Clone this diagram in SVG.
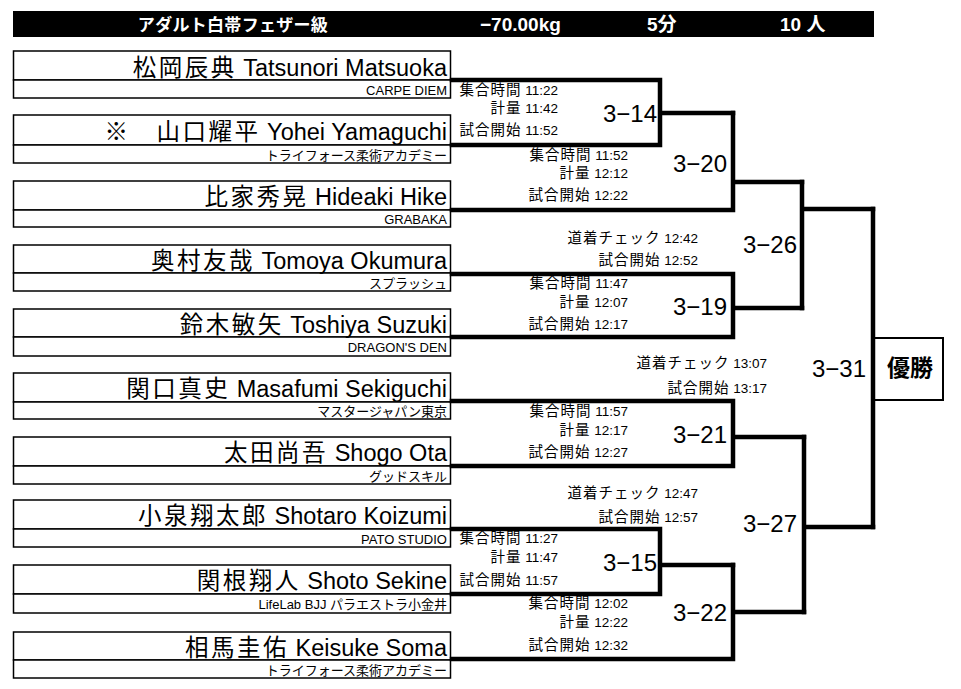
<svg xmlns="http://www.w3.org/2000/svg" width="961" height="689" viewBox="0 0 961 689">
<style>
text{font-family:"Liberation Sans","Noto Sans CJK JP",sans-serif;fill:#000}
.hd{fill:#fff;font-weight:bold;font-size:19px}
.bx{fill:#fff;stroke:#000;stroke-width:1.5}
.nm{font-size:23.5px;text-anchor:end}
.nk{letter-spacing:2.5px}
.cl{font-size:13px;text-anchor:end}
.sc{font-size:13.5px;text-anchor:end}
.k{font-size:14.5px;letter-spacing:1px}
.mt{font-size:24px;text-anchor:end}
.ln{fill:none;stroke:#000;stroke-width:4.5;stroke-linejoin:miter;stroke-linecap:square}
</style>
<rect width="961" height="689" fill="#fff"/>
<g id="header">
<rect x="13" y="11" width="861" height="26" fill="#000"/>
<text class="hd" x="233" y="31" text-anchor="middle" style="font-size:17px;letter-spacing:0.3px">アダルト白帯フェザー級</text>
<text class="hd" x="480" y="31">−70.00kg</text>
<text class="hd" x="647" y="31">5分</text>
<text class="hd" x="780" y="31">10 人</text>
</g>
<g id="n1"><rect class="bx" x="13.5" y="51" width="437" height="29"/><rect class="bx" x="13.5" y="80" width="437" height="18"/>
<text class="nm" x="447" y="76"><tspan class="nk">松岡辰典</tspan> Tatsunori Matsuoka</text><text class="cl" x="447" y="94.5">CARPE DIEM</text></g>
<g id="n2"><rect class="bx" x="13.5" y="115" width="437" height="30"/><rect class="bx" x="13.5" y="145" width="437" height="18"/>
<text class="nm" x="447" y="140"><tspan class="nk">※　山口耀平</tspan> Yohei Yamaguchi</text><text class="cl" x="447" y="159.5">トライフォース柔術アカデミー</text></g>
<g id="n3"><rect class="bx" x="13.5" y="181" width="437" height="29"/><rect class="bx" x="13.5" y="210" width="437" height="17"/>
<text class="nm" x="447" y="205"><tspan class="nk">比家秀晃</tspan> Hideaki Hike</text><text class="cl" x="447" y="224">GRABAKA</text></g>
<g id="n4"><rect class="bx" x="13.5" y="245" width="437" height="28"/><rect class="bx" x="13.5" y="273" width="437" height="18"/>
<text class="nm" x="447" y="269"><tspan class="nk">奥村友哉</tspan> Tomoya Okumura</text><text class="cl" x="447" y="287.5">スプラッシュ</text></g>
<g id="n5"><rect class="bx" x="13.5" y="309" width="437" height="28"/><rect class="bx" x="13.5" y="337" width="437" height="19"/>
<text class="nm" x="447" y="333"><tspan class="nk">鈴木敏矢</tspan> Toshiya Suzuki</text><text class="cl" x="447" y="352">DRAGON'S DEN</text></g>
<g id="n6"><rect class="bx" x="13.5" y="373" width="437" height="29"/><rect class="bx" x="13.5" y="402" width="437" height="17"/>
<text class="nm" x="447" y="397"><tspan class="nk">関口真史</tspan> Masafumi Sekiguchi</text><text class="cl" x="447" y="416">マスタージャパン東京</text></g>
<g id="n7"><rect class="bx" x="13.5" y="437" width="437" height="29"/><rect class="bx" x="13.5" y="466" width="437" height="18"/>
<text class="nm" x="447" y="461"><tspan class="nk">太田尚吾</tspan> Shogo Ota</text><text class="cl" x="447" y="480.5">グッドスキル</text></g>
<g id="n8"><rect class="bx" x="13.5" y="500" width="437" height="29"/><rect class="bx" x="13.5" y="529" width="437" height="18"/>
<text class="nm" x="447" y="524"><tspan class="nk">小泉翔太郎</tspan> Shotaro Koizumi</text><text class="cl" x="447" y="543.5">PATO STUDIO</text></g>
<g id="n9"><rect class="bx" x="13.5" y="565" width="437" height="29"/><rect class="bx" x="13.5" y="594" width="437" height="19"/>
<text class="nm" x="447" y="589"><tspan class="nk">関根翔人</tspan> Shoto Sekine</text><text class="cl" x="447" y="609">LifeLab BJJ パラエストラ小金井</text></g>
<g id="n10"><rect class="bx" x="13.5" y="632" width="437" height="28"/><rect class="bx" x="13.5" y="660" width="437" height="18"/>
<text class="nm" x="447" y="656"><tspan class="nk">相馬圭佑</tspan> Keisuke Soma</text><text class="cl" x="447" y="674.5">トライフォース柔術アカデミー</text></g>
<g id="winner"><rect class="bx" x="873" y="338" width="70" height="62" style="stroke-width:2"/>
<text x="910" y="376" text-anchor="middle" style="font-size:23px;font-weight:bold">優勝</text></g>
<g id="connectors">
<path class="ln" d="M452,80 H660 V145 H452 M660,113 H733"/>
<path class="ln" d="M733,113 V210 H452 M733,182 H802"/>
<path class="ln" d="M452,274 H733 V337 H452 M733,308 H802"/>
<path class="ln" d="M802,182 V308 M802,209 H873"/>
<path class="ln" d="M452,401 H733 V466 H452 M733,437 H804"/>
<path class="ln" d="M452,529 H660 V594 H452 M660,565 H733"/>
<path class="ln" d="M733,565 V659 H452 M733,612 H804"/>
<path class="ln" d="M804,437 V612 M804,527 H873"/>
<path class="ln" d="M873,209 V527"/>
</g>
<g id="labels">
<text class="mt" x="657" y="122">3−14</text>
<text class="mt" x="727" y="172">3−20</text>
<text class="mt" x="797" y="253">3−26</text>
<text class="mt" x="727" y="315">3−19</text>
<text class="mt" x="866" y="377">3−31</text>
<text class="mt" x="727" y="443">3−21</text>
<text class="mt" x="797" y="532">3−27</text>
<text class="mt" x="657" y="571">3−15</text>
<text class="mt" x="727" y="621">3−22</text>
</g>
<g id="schedules">
<text class="sc" x="558" y="95"><tspan class="k">集合時間</tspan> 11:22</text>
<text class="sc" x="558" y="113"><tspan class="k">計量</tspan> 11:42</text>
<text class="sc" x="558" y="135"><tspan class="k">試合開始</tspan> 11:52</text>
<text class="sc" x="628" y="160"><tspan class="k">集合時間</tspan> 11:52</text>
<text class="sc" x="628" y="178"><tspan class="k">計量</tspan> 12:12</text>
<text class="sc" x="628" y="200"><tspan class="k">試合開始</tspan> 12:22</text>
<text class="sc" x="698" y="243"><tspan class="k">道着チェック</tspan> 12:42</text>
<text class="sc" x="698" y="265"><tspan class="k">試合開始</tspan> 12:52</text>
<text class="sc" x="628" y="288"><tspan class="k">集合時間</tspan> 11:47</text>
<text class="sc" x="628" y="307"><tspan class="k">計量</tspan> 12:07</text>
<text class="sc" x="628" y="329"><tspan class="k">試合開始</tspan> 12:17</text>
<text class="sc" x="767" y="368"><tspan class="k">道着チェック</tspan> 13:07</text>
<text class="sc" x="767" y="393"><tspan class="k">試合開始</tspan> 13:17</text>
<text class="sc" x="628" y="416"><tspan class="k">集合時間</tspan> 11:57</text>
<text class="sc" x="628" y="435"><tspan class="k">計量</tspan> 12:17</text>
<text class="sc" x="628" y="457"><tspan class="k">試合開始</tspan> 12:27</text>
<text class="sc" x="698" y="498"><tspan class="k">道着チェック</tspan> 12:47</text>
<text class="sc" x="698" y="522"><tspan class="k">試合開始</tspan> 12:57</text>
<text class="sc" x="558" y="543"><tspan class="k">集合時間</tspan> 11:27</text>
<text class="sc" x="558" y="562"><tspan class="k">計量</tspan> 11:47</text>
<text class="sc" x="558" y="585"><tspan class="k">試合開始</tspan> 11:57</text>
<text class="sc" x="628" y="608"><tspan class="k">集合時間</tspan> 12:02</text>
<text class="sc" x="628" y="627"><tspan class="k">計量</tspan> 12:22</text>
<text class="sc" x="628" y="650"><tspan class="k">試合開始</tspan> 12:32</text>
</g>
</svg>
